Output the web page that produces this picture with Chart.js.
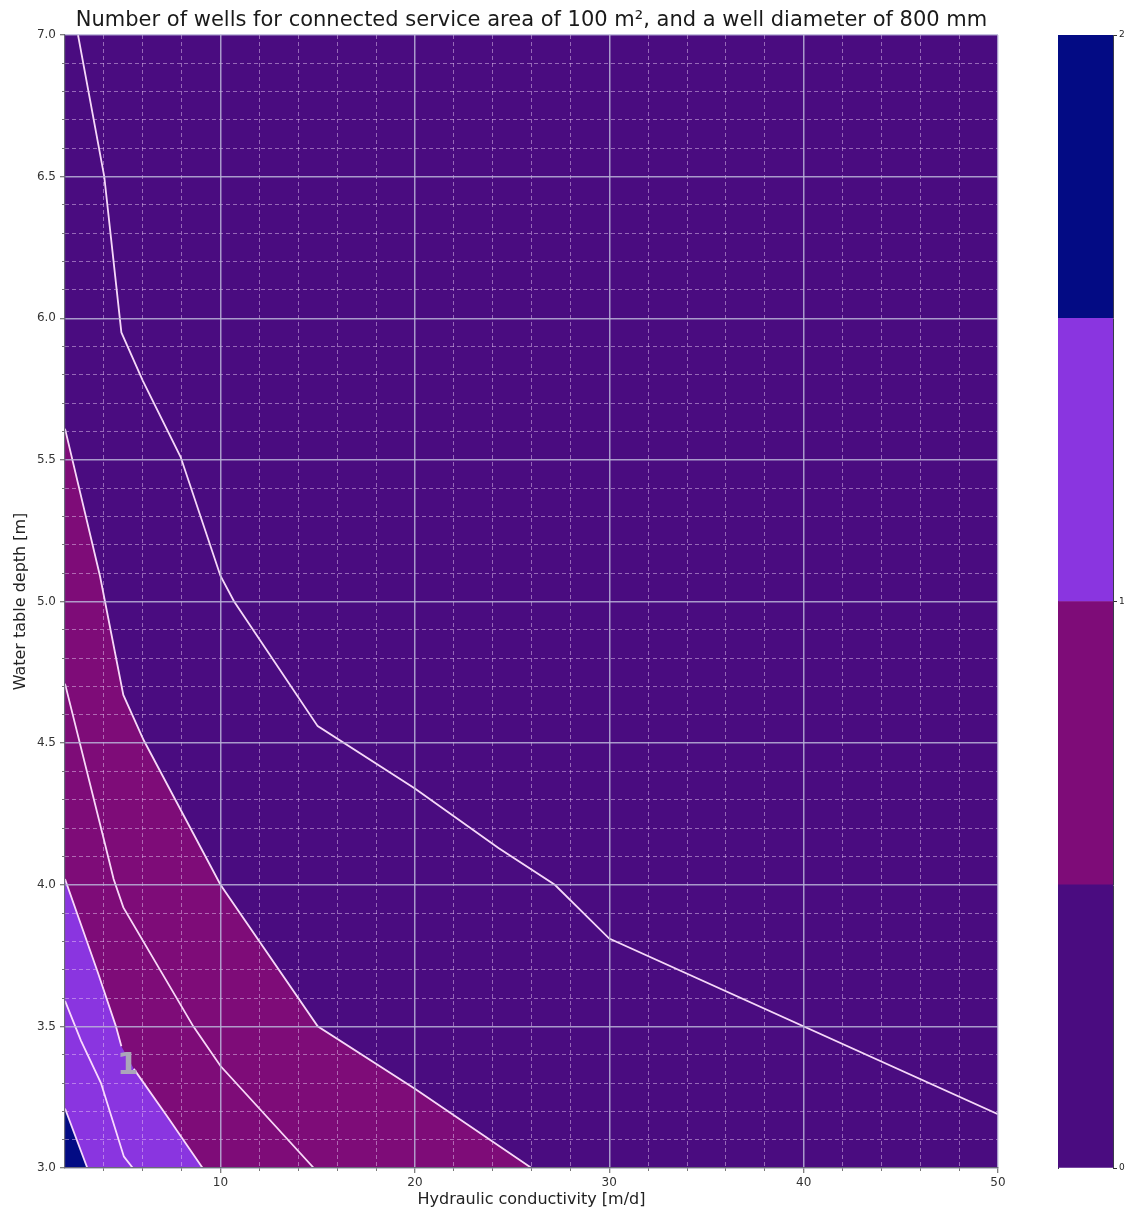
<!DOCTYPE html>
<html>
<head>
<meta charset="utf-8">
<script src="https://cdn.jsdelivr.net/npm/chart.js@4.4.1/dist/chart.umd.min.js"></script>
<style>
  html, body { margin: 0; padding: 0; background: #ffffff; }
  #wrap { position: relative; width: 1135px; height: 1214px; }
  #main { position: absolute; left: 0; top: 0; }
  #cbar { position: absolute; left: 1040px; top: 0; }
</style>
</head>
<body>
<div id="wrap">
  <canvas id="main" width="1063" height="1214"></canvas>
  <canvas id="cbar" width="95" height="1214"></canvas>
</div>
<script>
// Contour lines: hydraulic conductivity [m/d] (k) against water table depth [m]
const kA = [2.67, 4.02, 4.9, 6.0, 7.95, 10.0, 10.7, 15.0, 20.0, 24.3, 27.2, 30.0, 50.0];
const depthA = [7.0, 6.5, 5.95, 5.78, 5.51, 5.09, 5.0, 4.56, 4.34, 4.13, 4.0, 3.81, 3.19];
const kB = [2.0, 3.8, 5.0, 6.05, 10.0, 15.0, 20.0, 26.0];
const depthB = [5.61, 5.09, 4.67, 4.51, 4.0, 3.5, 3.28, 3.0];
const kC = [2.0, 4.0, 4.5, 5.0, 8.6, 10.0, 14.8];
const depthC = [4.71, 4.16, 4.02, 3.92, 3.5, 3.36, 3.0];
const kD = [2.0, 3.69, 4.62, 4.9, 5.54, 7.28, 9.08];
const depthD = [4.02, 3.69, 3.50, 3.43, 3.35, 3.18, 3.0];
const kE = [2.0, 2.82, 3.85, 5.03, 5.49];
const depthE = [3.59, 3.45, 3.30, 3.04, 3.0];
const kF = [2.0, 3.15];
const depthF = [3.21, 3.0];
const kTop = [2.0, 50.0];
const depthTop = [7.0, 7.0];

// Inline contour label
const labelK = [5.23];
const labelDepth = [3.36];
const labelText = ['1'];

// Filled levels (number of wells) and their colours
const levelBounds = [0, 0.5, 1, 1.5, 2];
const levelColors = ['#4a0c80', '#7e0c78', '#8a35e0', '#030b84'];

// Axis ticks
const xTicks = [10, 20, 30, 40, 50];
const xTickLabels = ['10', '20', '30', '40', '50'];
const xMinorTicks = [4, 6, 8, 12, 14, 16, 18, 22, 24, 26, 28, 32, 34, 36, 38, 42, 44, 46, 48];
const yTicks = [3.0, 3.5, 4.0, 4.5, 5.0, 5.5, 6.0, 6.5, 7.0];
const yTickLabels = ['3.0', '3.5', '4.0', '4.5', '5.0', '5.5', '6.0', '6.5', '7.0'];
const yMinorTicks = [3.1, 3.2, 3.3, 3.4, 3.6, 3.7, 3.8, 3.9, 4.1, 4.2, 4.3, 4.4, 4.6, 4.7, 4.8, 4.9,
                     5.1, 5.2, 5.3, 5.4, 5.6, 5.7, 5.8, 5.9, 6.1, 6.2, 6.3, 6.4, 6.6, 6.7, 6.8, 6.9];
const cbarTicks = [0, 1, 2];
const cbarTickLabels = ['0', '1', '2'];

const FONT = 'DejaVu Sans';
const LINE = 'rgba(255, 228, 255, 0.95)';
const MAJOR = 'rgba(186, 180, 216, 0.85)';
const MINOR = 'rgba(235, 205, 245, 0.48)';

Chart.defaults.font.family = FONT;

const pts = (xs, ys) => xs.map((x, i) => ({ x: x, y: ys[i] }));

function fillSet(xs, ys, color, order) {
  return {
    data: pts(xs, ys), fill: 'start', backgroundColor: color,
    borderColor: 'rgba(0,0,0,0)', borderWidth: 0, pointRadius: 0, tension: 0, order: order
  };
}

function lineSet(xs, ys, gapAt) {
  const ds = {
    data: pts(xs, ys), fill: false, borderColor: LINE, borderWidth: 1.8,
    pointRadius: 0, tension: 0, order: 1
  };
  if (gapAt !== undefined) {
    ds.segment = { borderColor: c => (c.p0DataIndex === gapAt ? 'rgba(0,0,0,0)' : LINE) };
  }
  return ds;
}

const setTicks = arr => scale => { scale.ticks = arr.map(v => ({ value: v })); };

// Contour label text drawn at its data position
const contourLabels = {
  id: 'contourLabels',
  afterDraw(chart) {
    const { ctx, scales } = chart;
    ctx.save();
    ctx.font = 'bold 31px ' + FONT;
    ctx.fillStyle = '#aba6ba';
    ctx.textAlign = 'center';
    ctx.textBaseline = 'middle';
    labelText.forEach((t, i) => {
      ctx.fillText(t, scales.x.getPixelForValue(labelK[i]), scales.y.getPixelForValue(labelDepth[i]));
    });
    ctx.restore();
  }
};

new Chart(document.getElementById('main'), {
  type: 'line',
  data: {
    datasets: [
      fillSet(kTop, depthTop, levelColors[0], 10),
      fillSet(kB, depthB, levelColors[1], 9),
      fillSet(kD, depthD, levelColors[2], 8),
      fillSet(kF, depthF, levelColors[3], 7),
      lineSet(kA, depthA),
      lineSet(kB, depthB),
      lineSet(kC, depthC),
      lineSet(kD, depthD, 3),
      lineSet(kE, depthE),
      lineSet(kF, depthF)
    ]
  },
  options: {
    responsive: false,
    animation: false,
    events: [],
    layout: { padding: 0 },
    plugins: {
      legend: { display: false },
      tooltip: { enabled: false },
      title: {
        display: true,
        text: 'Number of wells for connected service area of 100 m², and a well diameter of 800 mm',
        font: { family: FONT, size: 21, weight: 'normal' },
        color: '#1a1a1a',
        padding: { top: 7.5, bottom: 2.3 }
      }
    },
    scales: {
      x: {
        type: 'linear', min: 2, max: 50, position: 'bottom', weight: 1,
        afterBuildTicks: setTicks(xTicks),
        afterFit: s => { s.height = 46; },
        grid: { z: 2, color: MAJOR, lineWidth: 1.5, tickLength: 5, tickColor: '#555', tickWidth: 1 },
        border: { z: 3, display: true, color: '#6a6a7a', width: 1.2 },
        ticks: {
          callback: (v, i) => xTickLabels[i], font: { size: 12 }, color: '#333',
          padding: 3, maxRotation: 0, autoSkip: false
        },
        title: {
          display: true, text: 'Hydraulic conductivity [m/d]', font: { size: 16 }, color: '#222',
          padding: { top: 0, bottom: 4.4 }
        }
      },
      xMinor: {
        type: 'linear', min: 2, max: 50, position: 'bottom', weight: 0,
        afterBuildTicks: setTicks(xMinorTicks),
        afterFit: s => { s.height = 0; },
        grid: { z: 1, color: MINOR, lineWidth: 1, tickLength: 3, tickColor: '#555', tickWidth: 0.8, tickBorderDash: [] },
        border: { display: false, dash: [4, 3] },
        ticks: { display: false }
      },
      y: {
        type: 'linear', min: 3, max: 7, position: 'left', weight: 1,
        afterBuildTicks: setTicks(yTicks),
        afterFit: s => { s.width = 65; },
        grid: { z: 2, color: MAJOR, lineWidth: 1.5, tickLength: 5, tickColor: '#555', tickWidth: 1 },
        border: { z: 3, display: true, color: '#6a6a7a', width: 1.2 },
        ticks: { callback: (v, i) => yTickLabels[i], font: { size: 12 }, color: '#333', padding: 4, autoSkip: false },
        title: {
          display: true, text: 'Water table depth [m]', font: { size: 16 }, color: '#222',
          padding: { top: 11.4, bottom: 0 }
        }
      },
      yMinor: {
        type: 'linear', min: 3, max: 7, position: 'left', weight: 0,
        afterBuildTicks: setTicks(yMinorTicks),
        afterFit: s => { s.width = 0; },
        grid: { z: 1, color: MINOR, lineWidth: 1, tickLength: 3, tickColor: '#555', tickWidth: 0.8, tickBorderDash: [] },
        border: { display: false, dash: [4, 3] },
        ticks: { display: false }
      },
      // empty right-hand band so the plot ends at k = 50 with the title centred over it
      yRightBand: {
        type: 'linear', min: 3, max: 7, position: 'right',
        afterFit: s => { s.width = 65; },
        grid: { display: false, drawTicks: false },
        border: { display: false },
        ticks: { display: false }
      }
    }
  },
  plugins: [contourLabels]
});

// Colour bar: one stacked bar per filled level
new Chart(document.getElementById('cbar'), {
  type: 'bar',
  data: {
    labels: [''],
    datasets: levelColors.map((c, i) => ({
      data: [levelBounds[i + 1] - levelBounds[i]],
      backgroundColor: c, borderWidth: 0, barPercentage: 1, categoryPercentage: 1
    }))
  },
  options: {
    responsive: false,
    animation: false,
    events: [],
    layout: { padding: { left: 18, right: 0, top: 35, bottom: 46 } },
    plugins: { legend: { display: false }, tooltip: { enabled: false } },
    scales: {
      x: { stacked: true, display: false },
      y: {
        stacked: true, min: 0, max: 2, position: 'right',
        afterBuildTicks: setTicks(cbarTicks),
        afterFit: s => { s.width = 22; },
        grid: { drawOnChartArea: false, tickLength: 4, tickColor: '#333', tickWidth: 1 },
        border: { display: true, color: '#3a3a4a', width: 1 },
        ticks: { callback: (v, i) => cbarTickLabels[i], font: { size: 9 }, color: '#222', padding: 2, autoSkip: false }
      },
      yLeft: {
        type: 'linear', min: 0, max: 2, position: 'left',
        afterFit: s => { s.width = 0; },
        grid: { display: false, drawTicks: false },
        border: { display: true, color: '#3a3a4a', width: 1 },
        ticks: { display: false }
      }
    }
  }
});
</script>
</body>
</html>
